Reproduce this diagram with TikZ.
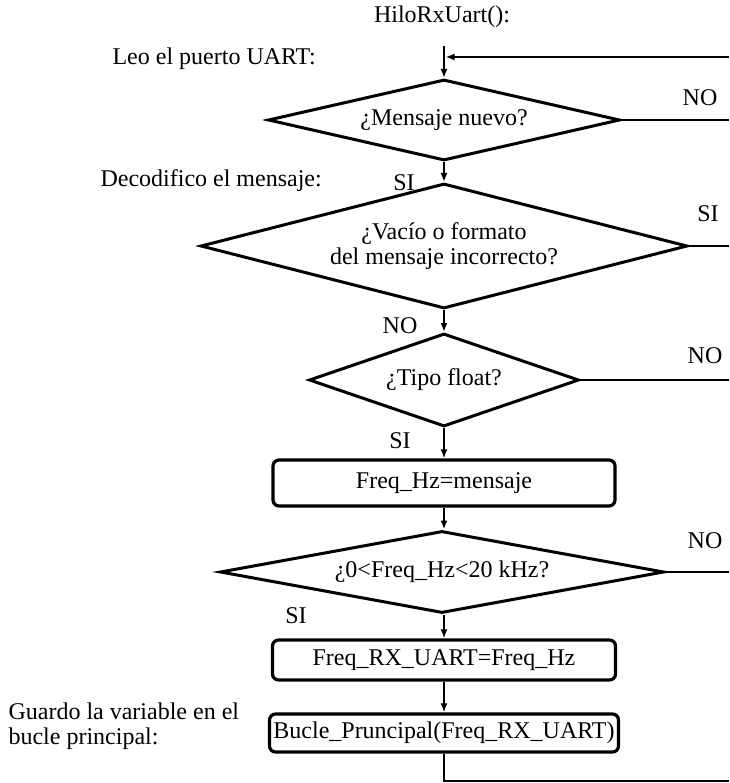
\documentclass[tikz,border=0pt]{standalone}
\usepackage{fontspec}
\setmainfont{Liberation Serif}
\usetikzlibrary{shapes.geometric,arrows.meta}

\begin{document}
\begin{tikzpicture}[x=1pt,y=-1pt,
              every node/.style={font=\fontsize{24}{25}\selectfont},
              decision/.style={draw, diamond, line width=3pt, inner sep=0pt},
              process/.style={draw, rectangle, rounded corners=6pt, line width=3.2pt, inner sep=0pt},
              flow/.style={line width=2.6pt, -{Latex[length=9pt,width=7pt]}},
              line/.style={line width=2.6pt}
            ]
              \useasboundingbox (0,0) rectangle (729,783);

              % cabecera del hilo
              \node (titulo) at (442,17) {HiloRxUart():};
              \node[anchor=west] (leo) at (109,59) {Leo el puerto UART:};
              \node[anchor=west] (deco) at (97,181) {Decodifico el mensaje:};
              \node[anchor=north west, align=left] (guardo) at (5,699)
                {Guardo la variable en el\\bucle principal:};

              % bloques del diagrama
              \node[decision, minimum width=352pt, minimum height=81pt, aspect=4.3]
                (nuevo) at (444,120) {¿Mensaje nuevo?};
              \node[decision, minimum width=487pt, minimum height=125pt, aspect=3.9, align=center]
                (vacio) at (444,246) {¿Vacío o formato\\del mensaje incorrecto?};
              \node[decision, minimum width=270pt, minimum height=93pt, aspect=2.9]
                (tipo) at (444,380) {¿Tipo float?};
              \node[process, minimum width=342pt, minimum height=46pt]
                (freq) at (444,483) {Freq\_Hz=mensaje};
              \node[decision, minimum width=444pt, minimum height=82pt, aspect=5.4]
                (rango) at (442,572) {¿0<Freq\_Hz<20 kHz?};
              \node[process, minimum width=343pt, minimum height=40pt]
                (asigna) at (444,660) {Freq\_RX\_UART=Freq\_Hz};
              \node[process, minimum width=349pt, minimum height=38pt]
                (bucle) at (444,733) {Bucle\_Pruncipal(Freq\_RX\_UART)};

              % etiquetas SI / NO
              \node (no1) at (700,98) {NO};
              \node (si1) at (404,183) {SI};
              \node (si2) at (708,214) {SI};
              \node (no2) at (400,326) {NO};
              \node (no3) at (705,356) {NO};
              \node (si3) at (400,441) {SI};
              \node (no4) at (705,541) {NO};
              \node (si4) at (296,616) {SI};

              % puntos libres en el borde derecho
              \coordinate (inicio) at (444,46);
              \coordinate (retorno) at (729,57);
              \coordinate (union) at (445.5,57);
              \coordinate (r1) at (729,120);
              \coordinate (r2) at (729,246);
              \coordinate (r3) at (729,380);
              \coordinate (r4) at (729,572);
              \coordinate (fin) at (729,781);

              \draw[flow] (inicio) -- (nuevo.north);
              \draw[flow] (retorno) -- (union);
              \draw[line] (nuevo.east) -- (r1);
              \draw[flow] (nuevo.south) -- (vacio.north);
              \draw[line] (vacio.east) -- (r2);
              \draw[flow] (vacio.south) -- (tipo.north);
              \draw[line] (tipo.east) -- (r3);
              \draw[flow] (tipo.south) -- (freq.north);
              \draw[flow] (freq.south) -- (rango.north -| freq.south);
              \draw[line] (rango.east) -- (r4);
              \draw[flow] (rango.south -| asigna.north) -- (asigna.north);
              \draw[flow] (asigna.south) -- (bucle.north);
              \draw[line] (bucle.south) |- (fin);
            \end{tikzpicture}
\end{document}
